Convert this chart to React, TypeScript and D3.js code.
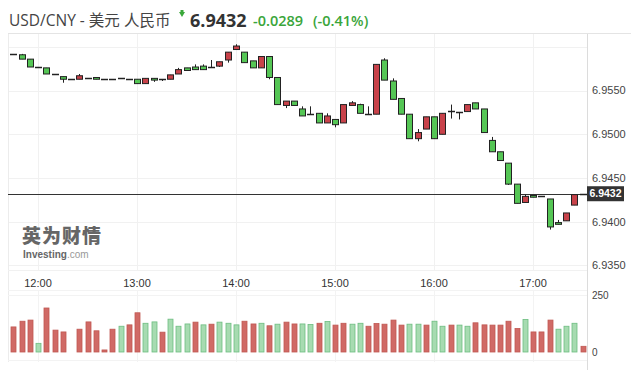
import * as d3 from 'd3';

// 5-minute candles, 11:45 -> 17:30
const startTime = '11:45';
const opens = [
  6.9592, 6.9591, 6.9586, 6.9577, 6.9576, 6.9569, 6.9566, 6.9563, 6.9563, 6.9564,
  6.9565, 6.9563, 6.9563, 6.9564, 6.9563, 6.9563, 6.9558, 6.9564, 6.9563, 6.9563,
  6.9569, 6.9576, 6.9577, 6.9578, 6.9577, 6.9578, 6.9585, 6.9597, 6.9594, 6.9584,
  6.9576, 6.9589, 6.9565, 6.9533, 6.9538, 6.9529, 6.9523, 6.9524, 6.9513, 6.9517,
  6.9513, 6.9533, 6.9534, 6.9523, 6.9523, 6.9585, 6.9561, 6.9541, 6.9523, 6.9495,
  6.9506, 6.9520, 6.9500, 6.9527, 6.9525, 6.9526, 6.9536, 6.9529, 6.9493, 6.9480,
  6.9467, 6.9443, 6.9422, 6.9430, 6.9429, 6.9426, 6.9399, 6.9401, 6.9419, 6.9432,
];
const closes = [
  6.9592, 6.9586, 6.9577, 6.9577, 6.9569, 6.9569, 6.9563, 6.9563, 6.9567, 6.9564,
  6.9563, 6.9563, 6.9563, 6.9564, 6.9563, 6.9558, 6.9564, 6.9562, 6.9563, 6.9568,
  6.9574, 6.9573, 6.9574, 6.9574, 6.9577, 6.9583, 6.9594, 6.9601, 6.9582, 6.9576,
  6.9589, 6.9565, 6.9534, 6.9538, 6.9533, 6.9521, 6.9523, 6.9513, 6.9521, 6.9511,
  6.9534, 6.9536, 6.9524, 6.9523, 6.9580, 6.9562, 6.9540, 6.9523, 6.9495, 6.9502,
  6.9520, 6.9495, 6.9524, 6.9527, 6.9525, 6.9534, 6.9529, 6.9502, 6.9480, 6.9470,
  6.9443, 6.9421, 6.9429, 6.9428, 6.9429, 6.9394, 6.9397, 6.9410, 6.9431, 6.9432,
];
const highs = [
  6.9592, 6.9592, 6.9586, 6.9577, 6.9576, 6.9569, 6.9566, 6.9563, 6.9569, 6.9564,
  6.9565, 6.9563, 6.9563, 6.9564, 6.9563, 6.9563, 6.9564, 6.9564, 6.9563, 6.9568,
  6.9576, 6.9576, 6.9580, 6.9580, 6.9585, 6.9583, 6.9594, 6.9603, 6.9594, 6.9584,
  6.9589, 6.9589, 6.9565, 6.9538, 6.9538, 6.9532, 6.9532, 6.9524, 6.9524, 6.9517,
  6.9534, 6.9538, 6.9535, 6.9532, 6.9580, 6.9587, 6.9564, 6.9541, 6.9523, 6.9506,
  6.9520, 6.9520, 6.9524, 6.9534, 6.9525, 6.9534, 6.9536, 6.9529, 6.9497, 6.9480,
  6.9467, 6.9443, 6.9431, 6.9430, 6.9429, 6.9426, 6.9402, 6.9410, 6.9431, 6.9432,
];
const lows = [
  6.9592, 6.9586, 6.9577, 6.9577, 6.9569, 6.9569, 6.9559, 6.9563, 6.9563, 6.9564,
  6.9563, 6.9563, 6.9563, 6.9564, 6.9563, 6.9558, 6.9558, 6.9560, 6.9561, 6.9563,
  6.9569, 6.9573, 6.9574, 6.9574, 6.9577, 6.9577, 6.9582, 6.9597, 6.9582, 6.9576,
  6.9576, 6.9563, 6.9534, 6.9530, 6.9533, 6.9521, 6.9523, 6.9513, 6.9513, 6.9508,
  6.9513, 6.9533, 6.9524, 6.9523, 6.9523, 6.9562, 6.9540, 6.9523, 6.9495, 6.9492,
  6.9506, 6.9495, 6.9500, 6.9518, 6.9517, 6.9526, 6.9529, 6.9502, 6.9480, 6.9470,
  6.9442, 6.9421, 6.9422, 6.9428, 6.9429, 6.9391, 6.9397, 6.9401, 6.9419, 6.9432,
];
const volumes = [
  110, 135, 140, 38, 193, 96, 88, 0, 100, 132,
  93, 9, 100, 113, 119, 172, 126, 132, 87, 144,
  113, 123, 131, 119, 122, 131, 126, 119, 135, 123,
  126, 115, 122, 131, 123, 123, 121, 126, 134, 118,
  126, 122, 126, 113, 125, 122, 140, 118, 122, 122,
  118, 135, 113, 118, 118, 113, 128, 119, 118, 118,
  135, 103, 143, 88, 88, 140, 100, 113, 126, 25,
];
// u = red bar, d = green bar
const volumeDir = 'uuuduuuduuuuuduuddudddududdduududuudduduudduuuuudduddudduuuuuuduuudddu';

const priceTicks = [6.935, 6.94, 6.945, 6.95, 6.955];
const priceGrid = [6.935, 6.94, 6.945, 6.95, 6.955, 6.96];
const timeTicks = ['12:00', '13:00', '14:00', '15:00', '16:00', '17:00'];
const volumeTicks = [0, 250];
const lastPrice = 6.9432;

const parseT = (s: string) => d3.timeParse('%Y-%m-%d %H:%M')('2023-02-10 ' + s) as Date;

export default function App() {
  const W = 631;
  const H = 370;
  const plotL = 8;
  const plotR = 587;

  const t0 = parseT(startTime);
  const candles = opens.map((o, i) => ({
    t: d3.timeMinute.offset(t0, i * 5),
    o,
    c: closes[i],
    h: highs[i],
    l: lows[i],
    v: volumes[i],
    up: volumeDir[i] === 'u',
  }));

  const x = d3.scaleTime().domain([parseT('12:00'), parseT('17:00')]).range([38, 533]);
  const y = d3.scaleLinear().domain([6.935, 6.955]).range([265.4, 90.6]);
  const yv = d3.scaleLinear().domain([0, 250]).range([352, 295]);

  const red = '#c8424a';
  const green = '#55c655';
  const font = '"Liberation Sans", Arial, sans-serif';
  const cw = 6;

  return (
    <div style={{ position: 'fixed', left: 0, top: 0 }}>
      <svg width={W} height={H} style={{ display: 'block', background: '#fff' }}>
        {/* header */}
        <text x={9} y={26} fontFamily='"Open Sans", "Noto Sans CJK SC", sans-serif' fontSize={15.5} fill="#444">
          USD/CNY - 美元 人民币
        </text>
        <path d="M179,12 L185,12 L182,17 Z M180.5,10 L183.5,10 L183.5,12 L180.5,12 Z" fill="#3aa83a" />
        <text x={190} y={27} fontFamily='"Open Sans", sans-serif' fontWeight={700} fontSize={18} fill="#333">
          6.9432
        </text>
        <text x={253} y={26} fontFamily='"Open Sans", sans-serif' fontWeight={600} fontSize={14.5} fill="#3aa53a">
          -0.0289
        </text>
        <text x={313} y={26} fontFamily='"Open Sans", sans-serif' fontWeight={600} fontSize={14.5} fill="#3aa53a">
          (-0.41%)
        </text>
        <line x1={8} x2={W} y1={33.5} y2={33.5} stroke="#e4e4e4" />

        {/* grid */}
        {priceGrid.map(p => (
          <line key={p} x1={plotL} x2={plotR} y1={Math.round(y(p)) + 0.5} y2={Math.round(y(p)) + 0.5} stroke="#f1f1f1" />
        ))}
        {timeTicks.map(s => (
          <g key={s}>
            <line x1={Math.round(x(parseT(s))) + 0.5} x2={Math.round(x(parseT(s))) + 0.5} y1={34} y2={270} stroke="#f1f1f1" />
            <line x1={Math.round(x(parseT(s))) + 0.5} x2={Math.round(x(parseT(s))) + 0.5} y1={291} y2={362} stroke="#f3f3f3" />
          </g>
        ))}
        <line x1={plotL + 0.5} x2={plotL + 0.5} y1={34} y2={362} stroke="#ececec" />
        <line x1={plotL} x2={plotR} y1={270.5} y2={270.5} stroke="#f1f1f1" />
        <line x1={plotL} x2={plotR} y1={290.5} y2={290.5} stroke="#f3f3f3" />
        <line x1={plotL} x2={plotR} y1={Math.round(yv(250)) + 0.5} y2={Math.round(yv(250)) + 0.5} stroke="#f3f3f3" />
        <line x1={plotL} x2={plotR} y1={360.5} y2={360.5} stroke="#f3f3f3" />
        <line x1={plotR + 0.5} x2={plotR + 0.5} y1={34} y2={H} stroke="#dcdcdc" />

        {/* watermark */}
        <text x={22} y={243} fontFamily='"Noto Sans CJK SC", sans-serif' fontWeight={900} fontSize={19} fill="#666" letterSpacing={1}>
          英为财情
        </text>
        <text x={23} y={258} fontFamily={font} fontSize={10} fill="#666">
          <tspan fontWeight={700}>Investing</tspan>
          <tspan fill="#999">.com</tspan>
        </text>

        {/* last price line */}
        <line x1={plotL} x2={plotR} y1={Math.round(y(lastPrice)) + 0.5} y2={Math.round(y(lastPrice)) + 0.5} stroke="#333" />

        {/* candles */}
        {candles.map((d, i) => {
          const cx = Math.round(x(d.t)) + 0.5;
          const wick = <line x1={cx} x2={cx} y1={y(d.h)} y2={y(d.l)} stroke="#222" />;
          if (d.o === d.c) {
            const yy = Math.round(y(d.o)) + 0.5;
            return (
              <g key={i}>
                {wick}
                <line x1={cx - cw / 2 - 0.5} x2={cx + cw / 2 + 0.5} y1={yy} y2={yy} stroke="#222" strokeWidth={1.5} />
              </g>
            );
          }
          const top = Math.min(y(d.o), y(d.c));
          const h = Math.max(1.5, Math.abs(y(d.o) - y(d.c)));
          return (
            <g key={i}>
              {wick}
              <rect x={cx - cw / 2} y={top} width={cw} height={h} fill={d.c > d.o ? red : green} stroke="#222" />
            </g>
          );
        })}

        {/* volume */}
        {candles.map((d, i) =>
          d.v > 0 ? (
            <rect
              key={i}
              x={Math.round(x(d.t)) - 2}
              y={yv(d.v)}
              width={5}
              height={yv(0) - yv(d.v)}
              fill={d.up ? '#d06a66' : '#a7dbb1'}
              stroke={d.up ? '#c05852' : '#6dbd80'}
              strokeWidth={0.8}
            />
          ) : null
        )}

        {/* axes labels */}
        {priceTicks.map(p => (
          <text key={p} x={592} y={y(p)} dy="0.35em" fontFamily={font} fontSize={11} fill="#444">
            {d3.format('.4f')(p)}
          </text>
        ))}
        {timeTicks.map(s => (
          <text key={s} x={x(parseT(s))} y={287} textAnchor="middle" fontFamily={font} fontSize={11} fill="#333">
            {s}
          </text>
        ))}
        {volumeTicks.map(v => (
          <text key={v} x={592} y={yv(v)} dy="0.35em" fontFamily={font} fontSize={10} fill="#444">
            {v}
          </text>
        ))}

        {/* last price tag */}
        <rect x={587} y={y(lastPrice) - 7.5} width={37} height={15} fill="#333" />
        <text x={605.5} y={y(lastPrice)} dy="0.35em" textAnchor="middle" fontFamily={font} fontWeight={700} fontSize={10.5} fill="#fff">
          {d3.format('.4f')(lastPrice)}
        </text>
      </svg>
    </div>
  );
}
